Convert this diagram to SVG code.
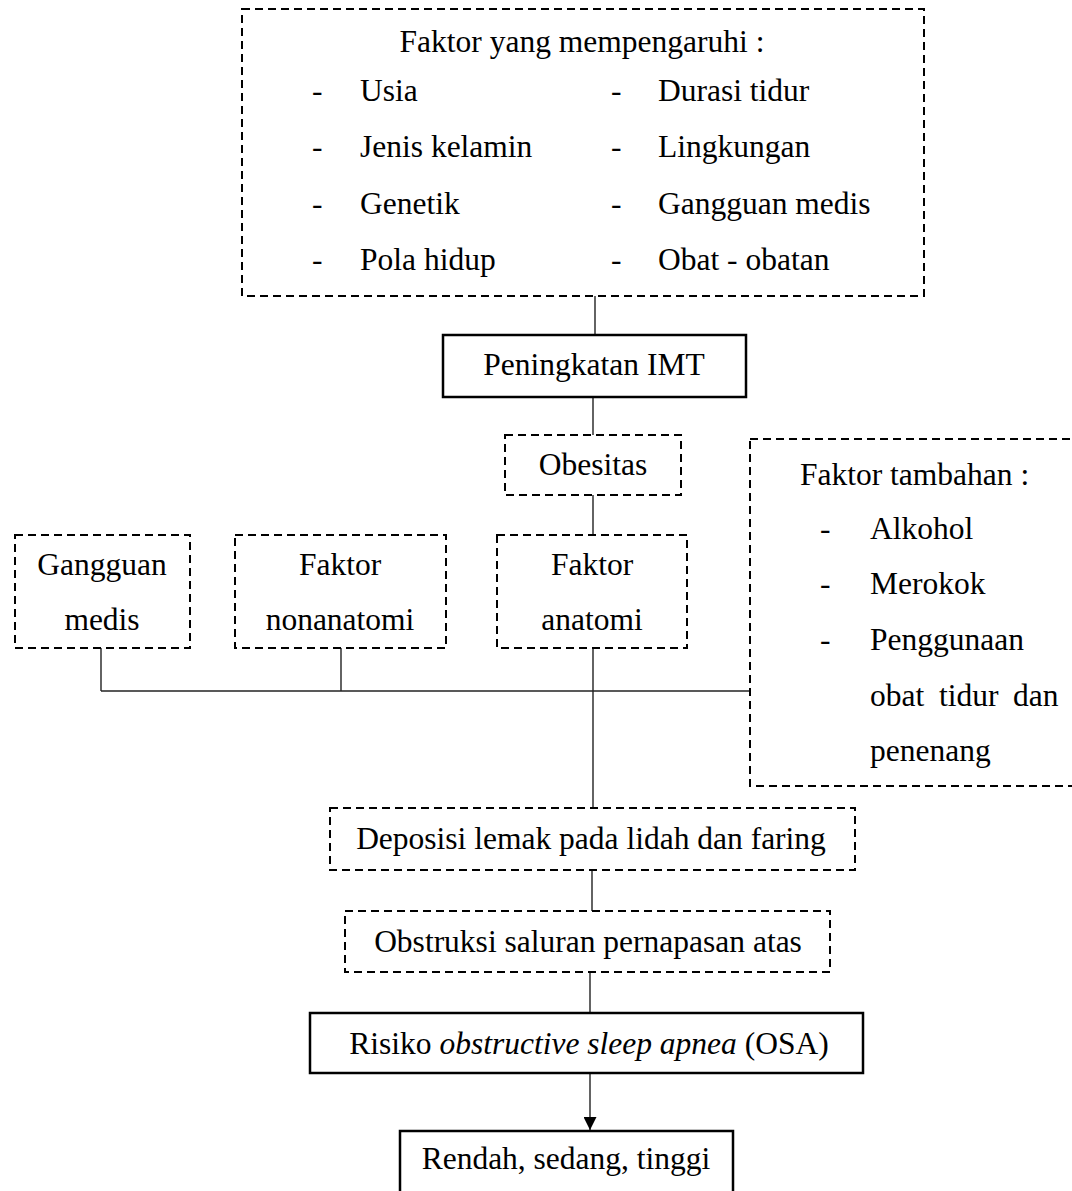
<svg xmlns="http://www.w3.org/2000/svg" width="1072" height="1191" viewBox="0 0 1072 1191">
  <style>
    text { font-family: "Liberation Serif", "Times New Roman", serif; font-size: 31.5px; fill: #000; }
    .c { text-anchor: middle; }
    .dash { fill: #fff; stroke: #000; stroke-width: 2; stroke-dasharray: 8 5; }
    .solid { fill: #fff; stroke: #000; stroke-width: 2.5; }
    .link { fill: none; stroke: #222; stroke-width: 1.4; }
  </style>
  <defs>
    <marker id="arrow" viewBox="0 0 10 10" refX="10" refY="5" markerWidth="13" markerHeight="13" markerUnits="userSpaceOnUse" orient="auto">
      <path d="M0,0 L10,5 L0,10 Z" fill="#000"/>
    </marker>
  </defs>
  <rect width="1072" height="1191" fill="#fff"/>

  <g id="connectors">
    <line class="link" x1="595" y1="296" x2="595" y2="335"/>
    <line class="link" x1="593" y1="397" x2="593" y2="435"/>
    <line class="link" x1="593" y1="495" x2="593" y2="535"/>
    <line class="link" x1="101" y1="648" x2="101" y2="691"/>
    <line class="link" x1="341" y1="648" x2="341" y2="691"/>
    <line class="link" x1="101" y1="691" x2="750" y2="691"/>
    <line class="link" x1="593" y1="648" x2="593" y2="808"/>
    <line class="link" x1="592" y1="870" x2="592" y2="911"/>
    <line class="link" x1="590" y1="972" x2="590" y2="1013"/>
    <line class="link" x1="590" y1="1073" x2="590" y2="1130" marker-end="url(#arrow)"/>
  </g>

  <g id="faktor-mempengaruhi">
    <rect class="dash" x="242" y="9" width="682" height="287"/>
    <text class="c" x="582" y="52">Faktor yang mempengaruhi :</text>
    <text x="312" y="101">-</text><text x="360" y="101">Usia</text>
    <text x="312" y="157">-</text><text x="360" y="157">Jenis kelamin</text>
    <text x="312" y="214">-</text><text x="360" y="214">Genetik</text>
    <text x="312" y="270">-</text><text x="360" y="270">Pola hidup</text>
    <text x="611" y="101">-</text><text x="658" y="101">Durasi tidur</text>
    <text x="611" y="157">-</text><text x="658" y="157">Lingkungan</text>
    <text x="611" y="214">-</text><text x="658" y="214">Gangguan medis</text>
    <text x="611" y="270">-</text><text x="658" y="270">Obat - obatan</text>
  </g>

  <g id="peningkatan-imt">
    <rect class="solid" x="443" y="335" width="303" height="62"/>
    <text class="c" x="594" y="375">Peningkatan IMT</text>
  </g>

  <g id="obesitas">
    <rect class="dash" x="505" y="435" width="176" height="60"/>
    <text class="c" x="593" y="475">Obesitas</text>
  </g>

  <g id="faktor-tambahan">
    <rect class="dash" x="750" y="439" width="360" height="347"/>
    <text x="800" y="485">Faktor tambahan :</text>
    <text x="820" y="539">-</text><text x="870" y="539">Alkohol</text>
    <text x="820" y="594">-</text><text x="870" y="594">Merokok</text>
    <text x="820" y="650">-</text><text x="870" y="650">Penggunaan</text>
    <text x="870" y="706">obat</text><text x="939" y="706">tidur</text><text x="1013" y="706">dan</text>
    <text x="870" y="761">penenang</text>
  </g>

  <g id="gangguan-medis">
    <rect class="dash" x="15" y="535" width="175" height="113"/>
    <text class="c" x="102" y="575">Gangguan</text>
    <text class="c" x="102" y="630">medis</text>
  </g>

  <g id="faktor-nonanatomi">
    <rect class="dash" x="235" y="535" width="211" height="113"/>
    <text class="c" x="340" y="575">Faktor</text>
    <text class="c" x="340" y="630">nonanatomi</text>
  </g>

  <g id="faktor-anatomi">
    <rect class="dash" x="497" y="535" width="190" height="113"/>
    <text class="c" x="592" y="575">Faktor</text>
    <text class="c" x="592" y="630">anatomi</text>
  </g>

  <g id="deposisi">
    <rect class="dash" x="330" y="808" width="525" height="62"/>
    <text class="c" x="591" y="849">Deposisi lemak pada lidah dan faring</text>
  </g>

  <g id="obstruksi">
    <rect class="dash" x="345" y="911" width="485" height="61"/>
    <text class="c" x="588" y="952">Obstruksi saluran pernapasan atas</text>
  </g>

  <g id="risiko-osa">
    <rect class="solid" x="310" y="1013" width="553" height="60"/>
    <text class="c" x="589" y="1054">Risiko <tspan font-style="italic">obstructive sleep apnea</tspan> (OSA)</text>
  </g>

  <g id="rendah-sedang-tinggi">
    <rect class="solid" x="400" y="1131" width="333" height="80"/>
    <text class="c" x="566" y="1169">Rendah, sedang, tinggi</text>
  </g>
</svg>
